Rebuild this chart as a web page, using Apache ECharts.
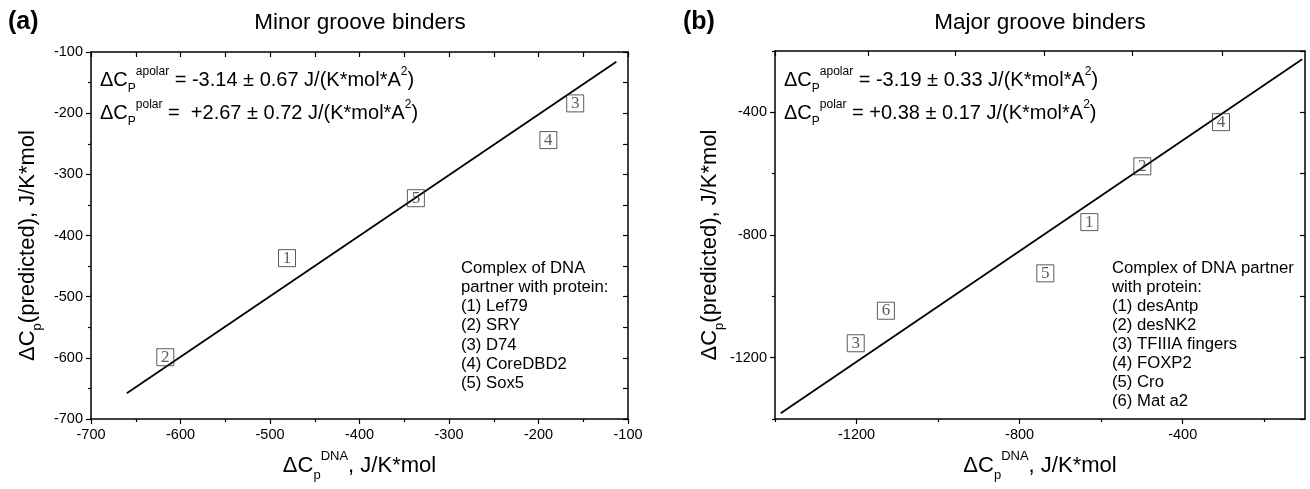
<!DOCTYPE html>
<html><head><meta charset="utf-8">
<script src="https://cdn.jsdelivr.net/npm/echarts@6/dist/echarts.min.js"></script>
<style>html,body{margin:0;padding:0;background:#fff}#c{width:1310px;height:489px}</style>
</head><body><div id="c"></div>
<script>
// ---- data ----
const minorIds = ['1','2','3','4','5'];
const minorX = [-481,-617,-159,-189,-337];
const minorY = [-437,-599,-184,-244,-339];
const minorFitX = [-660,-113];
const minorFitY = [-658,-116];

const majorIds = ['1','2','3','4','5','6'];
const majorX = [-629,-499,-1202,-306,-737,-1128];
const majorY = [-758,-576,-1153,-432,-925,-1047];
const majorFitX = [-1386,-107];
const majorFitY = [-1381,-227];

const majorLabelTicks = [-1200,-800,-400];
const majorMinorTicks = [-1400,-1000,-600,-200];
const majorTopTicks = [-1400,-1172,-957,-740,-524,-304];
const majorRightTicks = [-200,-400,-600,-800,-1000,-1200,-1400];

const minorLegend = ['Complex of DNA','partner with protein:','(1) Lef79','(2) SRY','(3) D74','(4) CoreDBD2','(5) Sox5'];
const majorLegend = ['Complex of DNA partner','with protein:','(1) desAntp','(2) desNK2','(3) TFIIIA fingers','(4) FOXP2','(5) Cro','(6) Mat a2'];

const minorTitle = 'Minor groove binders';
const majorTitle = 'Major groove binders';
const minorEq = [['apolar',' = -3.14 ± 0.67 J/(K*mol*A'],['polar',' =  +2.67 ± 0.72 J/(K*mol*A']];
const majorEq = [['apolar',' = -3.19 ± 0.33 J/(K*mol*A'],['polar',' = +0.38 ± 0.17 J/(K*mol*A']];

// ---- styling ----
const F = "'Liberation Sans', Arial, sans-serif";
const FS = "'Liberation Serif', 'Times New Roman', serif";
const BLK = '#000';

const chart = echarts.init(document.getElementById('c'), null, {renderer: 'canvas'});

const gridA = {left: 91, top: 52, width: 537, height: 367};
const gridB = {left: 775, top: 51, width: 530, height: 368};

function axLine(show){ return {show: true, onZero: false, lineStyle: {color: show ? BLK : 'rgba(0,0,0,0)', width: 1.5}}; }
const lab = {color: BLK, fontFamily: F, fontSize: 14.5, margin: 8, formatter: v => String(v)};

const nameRich = {
  m: {fontSize: 22, fontFamily: F, color: BLK, lineHeight: 32},
  sb: {fontSize: 13, fontFamily: F, color: BLK, lineHeight: 13, verticalAlign: 'bottom'},
  sp: {fontSize: 13, fontFamily: F, color: BLK, lineHeight: 13, verticalAlign: 'top'}
};
const xName = '{m|ΔC}{sb|p}{sp|DNA}{m|, J/K*mol}';
const yName = '{m|ΔC}{sb|p}{m|(predicted), J/K*mol}';

const xAxis = [
  // 0: panel a bottom
  {gridIndex: 0, type: 'value', min: -700, max: -100, interval: 100, position: 'bottom',
   axisLine: axLine(true), axisTick: {length: 5, lineStyle: {color: BLK, width: 1.2}},
   minorTick: {show: true, splitNumber: 2, length: 3, lineStyle: {color: BLK, width: 1.2}},
   axisLabel: lab, splitLine: {show: false},
   name: xName, nameLocation: 'middle', nameGap: 31, nameTextStyle: {rich: nameRich}},
  // 1: panel a top
  {gridIndex: 0, type: 'value', min: -700, max: -100, interval: 50, position: 'top',
   axisLine: axLine(true), axisTick: {inside: true, length: 5, lineStyle: {color: BLK, width: 1.2}},
   axisLabel: {show: false}, splitLine: {show: false}},
  // 2: panel b bottom
  {gridIndex: 1, type: 'value', min: -1400, max: -100, position: 'bottom',
   axisLine: axLine(true), axisTick: {customValues: majorLabelTicks, length: 5, lineStyle: {color: BLK, width: 1.2}},
   axisLabel: Object.assign({customValues: majorLabelTicks}, lab), splitLine: {show: false},
   name: xName, nameLocation: 'middle', nameGap: 31, nameTextStyle: {rich: nameRich}},
  // 3: panel b top
  {gridIndex: 1, type: 'value', min: -1400, max: -100, position: 'top',
   axisLine: axLine(true), axisTick: {customValues: majorTopTicks, inside: true, length: 5, lineStyle: {color: BLK, width: 1.2}},
   axisLabel: {show: false}, splitLine: {show: false}},
  // 4: panel b bottom minor ticks
  {gridIndex: 2, type: 'value', min: -1400, max: -100, position: 'bottom',
   axisLine: axLine(false), axisTick: {customValues: majorMinorTicks, length: 3, lineStyle: {color: BLK, width: 1.2}},
   axisLabel: {show: false}, splitLine: {show: false}}
];

const yAxis = [
  // 0: panel a left
  {gridIndex: 0, type: 'value', min: -700, max: -100, interval: 100, position: 'left',
   axisLine: axLine(true), axisTick: {length: 5, lineStyle: {color: BLK, width: 1.2}},
   minorTick: {show: true, splitNumber: 2, length: 3, lineStyle: {color: BLK, width: 1.2}},
   axisLabel: lab, splitLine: {show: false},
   name: yName, nameLocation: 'middle', nameGap: 47, nameRotate: 90, nameTextStyle: {rich: nameRich, padding: [0, 20, 0, 0]}},
  // 1: panel a right
  {gridIndex: 0, type: 'value', min: -700, max: -100, interval: 50, position: 'right',
   axisLine: axLine(true), axisTick: {inside: true, length: 5, lineStyle: {color: BLK, width: 1.2}},
   axisLabel: {show: false}, splitLine: {show: false}},
  // 2: panel b left
  {gridIndex: 1, type: 'value', min: -1400, max: -200, position: 'left',
   axisLine: axLine(true), axisTick: {customValues: majorLabelTicks, length: 5, lineStyle: {color: BLK, width: 1.2}},
   axisLabel: Object.assign({customValues: majorLabelTicks}, lab), splitLine: {show: false},
   name: yName, nameLocation: 'middle', nameGap: 47, nameRotate: 90, nameTextStyle: {rich: nameRich, padding: [0, 20, 0, 0]}},
  // 3: panel b right
  {gridIndex: 1, type: 'value', min: -1400, max: -200, position: 'right',
   axisLine: axLine(true), axisTick: {customValues: majorRightTicks, inside: true, length: 5, lineStyle: {color: BLK, width: 1.2}},
   axisLabel: {show: false}, splitLine: {show: false}},
  // 4: panel b left minor ticks
  {gridIndex: 2, type: 'value', min: -1400, max: -200, position: 'left',
   axisLine: axLine(false), axisTick: {customValues: majorMinorTicks, length: 3, lineStyle: {color: BLK, width: 1.2}},
   axisLabel: {show: false}, splitLine: {show: false}}
];

function boxSeries(ids, xs, ys, xi, yi){
  return {type: 'scatter', xAxisIndex: xi, yAxisIndex: yi, z: 5,
    symbol: 'rect', symbolSize: 17,
    itemStyle: {color: 'rgba(255,255,255,0)', borderColor: '#333', borderWidth: 1},
    label: {show: true, position: 'inside', formatter: p => p.data[2], fontFamily: FS, fontSize: 17, color: '#333'},
    emphasis: {disabled: true},
    data: xs.map((x, i) => [x, ys[i], ids[i]])};
}
function fitSeries(xs, ys, xi, yi){
  return {type: 'line', xAxisIndex: xi, yAxisIndex: yi, z: 3, symbol: 'none',
    lineStyle: {color: BLK, width: 1.8}, silent: true,
    data: xs.map((x, i) => [x, ys[i]])};
}

const gRich = {
  m: {fontSize: 20, fontFamily: F, fill: BLK, lineHeight: 30},
  sb: {fontSize: 12, fontFamily: F, fill: BLK, lineHeight: 12, verticalAlign: 'bottom'},
  sp: {fontSize: 12, fontFamily: F, fill: BLK, lineHeight: 12, verticalAlign: 'top', padding: [1, 0, 0, 0]}
};
function eqText(e){ return '{m|ΔC}{sb|P}{sp|' + e[0] + '}{m|' + e[1] + '}{sp|2}{m|)}'; }
function txt(x, y, text, opts){
  return {type: 'text', x: x, y: y, silent: true,
    style: Object.assign({text: text, fill: BLK, font: '18px ' + F, textAlign: 'left', textVerticalAlign: 'middle'}, opts || {})};
}

const graphic = [
  txt(8, 22, '(a)', {font: 'bold 25px ' + F}),
  txt(683, 22, '(b)', {font: 'bold 25px ' + F}),
  txt(360, 23, minorTitle, {font: '22.5px ' + F, textAlign: 'center'}),
  txt(1040, 23, majorTitle, {font: '22.5px ' + F, textAlign: 'center'}),
  txt(100, 80, eqText(minorEq[0]), {rich: gRich}),
  txt(100, 113, eqText(minorEq[1]), {rich: gRich}),
  txt(784, 80, eqText(majorEq[0]), {rich: gRich}),
  txt(784, 113, eqText(majorEq[1]), {rich: gRich}),
  txt(461, 258.5, minorLegend.join('\n'), {font: '16.7px ' + F, lineHeight: 19.2, textVerticalAlign: 'top'}),
  txt(1112, 258.5, majorLegend.join('\n'), {font: '16.7px ' + F, lineHeight: 19, textVerticalAlign: 'top'})
];

chart.setOption({
  animation: false,
  backgroundColor: '#fff',
  grid: [
    Object.assign({}, gridA),
    Object.assign({}, gridB),
    Object.assign({}, gridB)
  ],
  xAxis: xAxis,
  yAxis: yAxis,
  series: [
    fitSeries(minorFitX, minorFitY, 0, 0),
    boxSeries(minorIds, minorX, minorY, 0, 0),
    fitSeries(majorFitX, majorFitY, 2, 2),
    boxSeries(majorIds, majorX, majorY, 2, 2)
  ],
  graphic: graphic
});
</script>
</body></html>
